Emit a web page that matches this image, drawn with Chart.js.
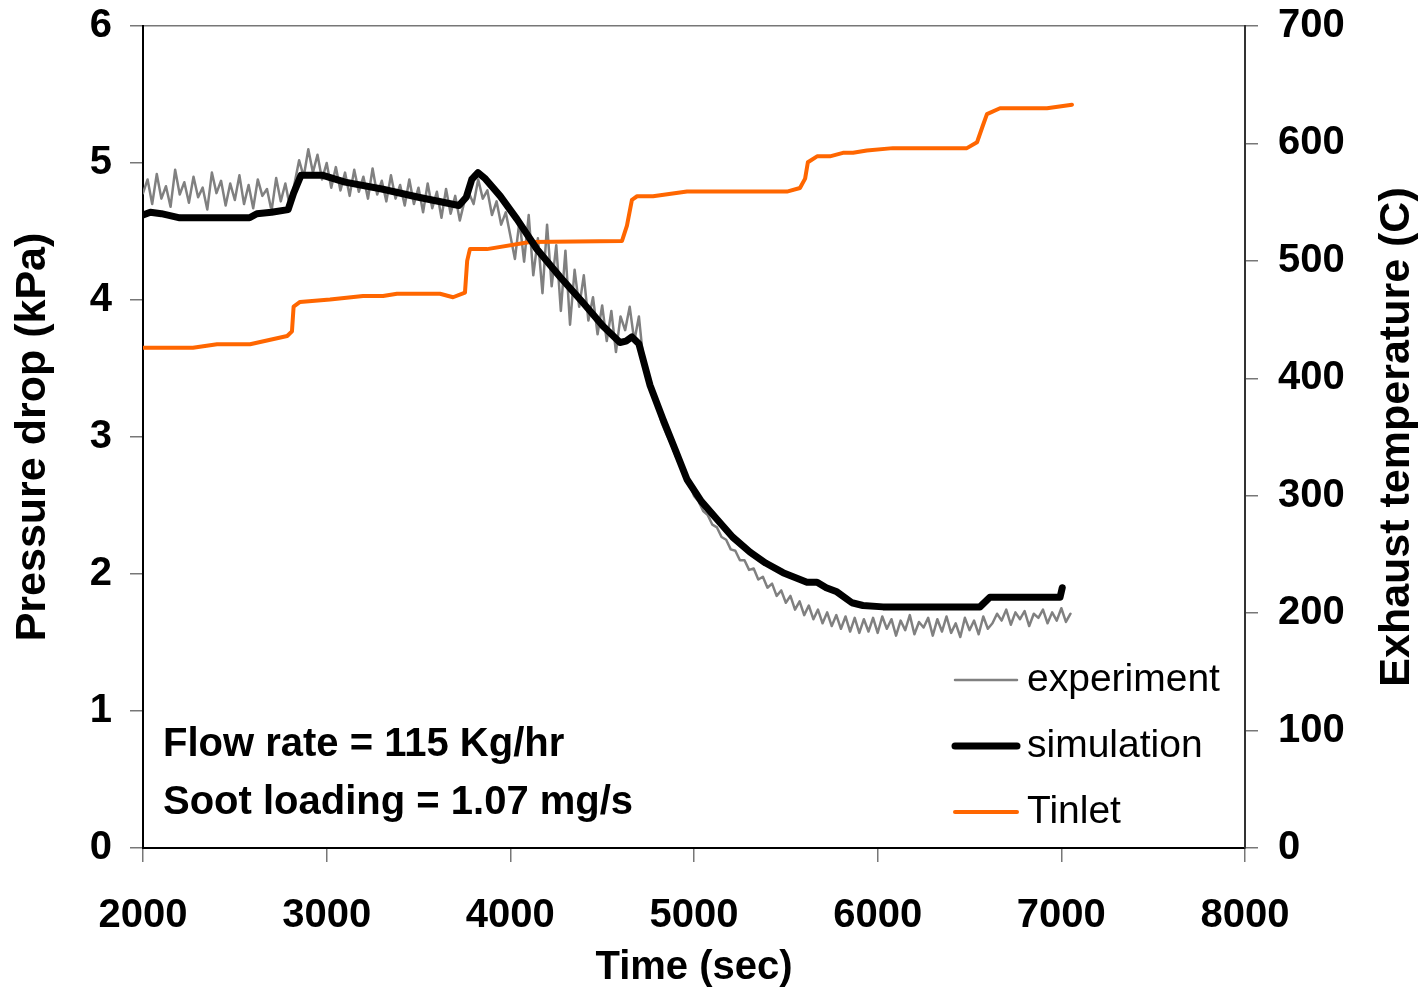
<!DOCTYPE html>
<html>
<head>
<meta charset="utf-8">
<script src="https://cdn.jsdelivr.net/npm/chart.js@4"></script>
<style>
  html, body { margin: 0; padding: 0; background: #fff; }
</style>
</head>
<body>
<canvas id="chart" width="1422" height="993"></canvas>
<script>
// measured pressure drop, sampled every 25 s (kPa)
const expTime = [
  2000,2025,2050,2075,2100,2125,2150,2175,2200,2225,
  2250,2275,2300,2325,2350,2375,2400,2425,2450,2475,
  2500,2525,2550,2575,2600,2625,2650,2675,2700,2725,
  2750,2775,2800,2825,2850,2875,2900,2925,2950,2975,
  3000,3025,3050,3075,3100,3125,3150,3175,3200,3225,
  3250,3275,3300,3325,3350,3375,3400,3425,3450,3475,
  3500,3525,3550,3575,3600,3625,3650,3675,3700,3725,
  3750,3775,3800,3825,3850,3875,3900,3925,3950,3975,
  4000,4025,4050,4075,4100,4125,4150,4175,4200,4225,
  4250,4275,4300,4325,4350,4375,4400,4425,4450,4475,
  4500,4525,4550,4575,4600,4625,4650,4675,4700,4725,
  4750,4775,4800,4825,4850,4875,4900,4925,4950,4975,
  5000,5025,5050,5075,5100,5125,5150,5175,5200,5225,
  5250,5275,5300,5325,5350,5375,5400,5425,5450,5475,
  5500,5525,5550,5575,5600,5625,5650,5675,5700,5725,
  5750,5775,5800,5825,5850,5875,5900,5925,5950,5975,
  6000,6025,6050,6075,6100,6125,6150,6175,6200,6225,
  6250,6275,6300,6325,6350,6375,6400,6425,6450,6475,
  6500,6525,6550,6575,6600,6625,6650,6675,6700,6725,
  6750,6775,6800,6825,6850,6875,6900,6925,6950,6975,
  7000,7025,7050
];
const expDrop = [
  // 2000 - 2800
  4.78,4.88,4.70,4.92,4.74,4.83,4.68,4.95,4.77,4.86,4.71,4.90,4.75,4.82,4.66,4.93,4.78,
  4.87,4.69,4.85,4.73,4.91,4.70,4.84,4.67,4.88,4.76,4.81,4.65,4.89,4.72,4.85,4.68,
  // 2825 - 3000
  4.85,5.02,4.90,5.10,4.93,5.06,4.88,5.00,
  // 3025 - 3750
  4.82,4.97,4.80,4.93,4.76,4.95,4.79,4.90,4.74,4.96,4.77,4.87,4.72,4.91,4.74,
  4.84,4.69,4.88,4.70,4.82,4.64,4.85,4.67,4.79,4.60,4.81,4.63,4.76,4.58,4.72,
  // 3775 - 4000
  4.78,4.70,4.88,4.74,4.80,4.62,4.72,4.55,4.64,4.47,
  // 4025 - 4600
  4.30,4.58,4.28,4.62,4.18,4.45,4.05,4.55,4.10,4.40,3.92,4.36,
  3.82,4.22,3.95,4.18,3.85,4.02,3.75,3.96,3.70,3.92,3.62,3.88,
  // 4625 - 4800
  3.78,3.95,3.70,3.88,3.55,3.45,3.32,3.22,
  // 4825 - 5975
  3.10,3.02,2.95,2.86,2.80,2.70,2.66,2.57,2.53,2.46,2.43,2.36,2.34,2.27,2.25,2.18,
  2.17,2.10,2.10,2.03,2.04,1.96,1.98,1.90,1.93,1.84,1.88,1.79,1.84,1.74,1.80,1.70,
  1.77,1.67,1.74,1.64,1.72,1.62,1.70,1.60,1.69,1.58,1.68,1.57,1.67,1.58,1.68,
  // 6000 - 6600
  1.57,1.69,1.60,1.67,1.55,1.66,1.59,1.70,1.56,1.65,1.61,1.68,1.55,
  1.67,1.58,1.69,1.57,1.64,1.54,1.68,1.59,1.66,1.56,1.69,1.60,
  // 6625 - 7050
  1.64,1.71,1.66,1.74,1.63,1.72,1.67,1.73,1.62,1.71,1.68,1.74,1.64,1.72,1.66,1.75,1.65,1.71
];

// simulated pressure drop (kPa)
const simTime = [2000,2040,2100,2200,2400,2580,2620,2700,2790,2820,2860,2980,3100,3300,3500,3720,3760,3790,3824,3860,
  3944,4036,4145,4270,4396,4504,4597,4630,4662,4700,4760,4831,4900,4962,5040,5125,5210,5305,5390,5485,
  5615,5640,5670,5720,5778,5860,5920,6029,6557,6611,6993,7000,7005];
const simDrop = [4.62,4.64,4.63,4.60,4.60,4.60,4.63,4.64,4.66,4.78,4.91,4.91,4.86,4.81,4.75,4.69,4.75,4.88,4.93,4.89,
  4.76,4.59,4.37,4.17,3.98,3.81,3.69,3.70,3.73,3.68,3.38,3.13,2.90,2.69,2.53,2.40,2.27,2.16,2.08,2.01,
  1.94,1.94,1.94,1.90,1.87,1.79,1.77,1.76,1.76,1.83,1.83,1.87,1.90];

// inlet exhaust temperature (C)
const tinTime = [2000,2272,2403,2583,2785,2811,2820,2855,3018,3198,3307,3383,3617,3688,3753,3765,3780,3873,4107,4608,
  4635,4662,4690,4777,4962,5506,5577,5605,5620,5670,5740,5811,5866,5941,6083,6486,6541,6570,6595,6666,
  6922,7058];
const tinTemp = [426,426,429,429,436,440,461,465,467,470,470,472,472,469,473,500,510,510,516,517,
  530,552,555,555,559,559,562,570,584,589,589,592,592,594,596,596,601,614,625,630,
  630,633];

const xTicks = [2000, 3000, 4000, 5000, 6000, 7000, 8000];
const notes = ['Flow rate = 115 Kg/hr', 'Soot loading = 1.07 mg/s'];
const rightTitle = 'Exhaust temperature (C)';

const FONT = '"Liberation Sans", Arial, sans-serif';

function pairs(xs, ys) {
  const n = Math.min(xs.length, ys.length);
  const out = [];
  for (let i = 0; i < n; i++) out.push({ x: xs[i], y: ys[i] });
  return out;
}

// legend, notes and the right axis title (reads bottom to top like the left one)
const insidePlot = {
  id: 'insidePlot',
  afterDraw(chart) {
    const { ctx, chartArea } = chart;
    ctx.save();
    ctx.textBaseline = 'middle';
    ctx.fillStyle = '#000';
    ctx.font = '39px ' + FONT;
    chart.data.datasets.forEach((ds, i) => {
      const y = chartArea.bottom - 168 + i * 66;
      const x = chartArea.right - 290;
      ctx.strokeStyle = ds.borderColor;
      ctx.lineWidth = ds.borderWidth;
      ctx.lineCap = 'round';
      ctx.beginPath();
      ctx.moveTo(x, y);
      ctx.lineTo(x + 62, y);
      ctx.stroke();
      ctx.fillText(ds.label, x + 72, y);
    });
    ctx.font = 'bold 40px ' + FONT;
    notes.forEach((t, i) => {
      ctx.fillText(t, chartArea.left + 20, chartArea.bottom - 103 + i * 58);
    });
    ctx.translate(chart.width - 25, (chartArea.top + chartArea.bottom) / 2);
    ctx.rotate(-Math.PI / 2);
    ctx.textAlign = 'center';
    ctx.font = 'bold 43px ' + FONT;
    ctx.fillText(rightTitle, 0, 0);
    ctx.restore();
  }
};

const tickFont = { family: FONT, size: 40, weight: 'bold' };

function noPad(s) {
  s.paddingTop = 0;
  s.paddingBottom = 0;
  s.paddingLeft = 0;
  s.paddingRight = 0;
}

new Chart(document.getElementById('chart'), {
  type: 'line',
  data: {
    datasets: [{
      label: 'experiment',
      data: pairs(expTime, expDrop),
      borderColor: '#808080',
      borderWidth: 2.5,
      yAxisID: 'y',
      order: 2
    }, {
      label: 'simulation',
      data: pairs(simTime, simDrop),
      borderColor: '#000000',
      borderWidth: 7,
      yAxisID: 'y',
      order: 0
    }, {
      label: 'Tinlet',
      data: pairs(tinTime, tinTemp),
      borderColor: '#ff6600',
      borderWidth: 4,
      yAxisID: 'y2',
      order: 1
    }]
  },
  options: {
    responsive: false,
    animation: false,
    devicePixelRatio: 1,
    layout: { padding: { top: 26, left: 0, right: 0, bottom: 0 } },
    elements: {
      point: { radius: 0 },
      line: { tension: 0, borderJoinStyle: 'round', borderCapStyle: 'round' }
    },
    plugins: { legend: { display: false }, tooltip: { enabled: false } },
    scales: {
      x: {
        type: 'linear',
        min: 2000, max: 8000,
        afterBuildTicks: (s) => { s.ticks = xTicks.map(v => ({ value: v })); },
        afterFit: (s) => { s.height = 145; noPad(s); },
        grid: { drawOnChartArea: false, tickLength: 14, color: '#777', lineWidth: 1.5 },
        border: { color: '#000', width: 2 },
        ticks: { color: '#000', font: tickFont, padding: 30, maxRotation: 0, callback: (v) => String(v) },
        title: { display: true, text: 'Time (sec)', color: '#000', font: tickFont, padding: { top: 0, bottom: 1 } }
      },
      y: {
        position: 'left',
        min: 0, max: 6,
        ticks: { stepSize: 1, color: '#000', font: tickFont, padding: 18, callback: (v) => String(v) },
        afterFit: (s) => { s.width = 143; noPad(s); },
        grid: {
          tickLength: 13,
          tickColor: '#777',
          color: (c) => (c.tick && c.tick.value === 6 ? '#777' : 'rgba(0,0,0,0)'),
          lineWidth: 1.5
        },
        border: { color: '#000', width: 2 },
        title: { display: true, text: 'Pressure drop (kPa)', color: '#000', font: { family: FONT, size: 43, weight: 'bold' }, padding: { top: 7, bottom: 0 } }
      },
      y2: {
        position: 'right',
        min: 0, max: 700,
        ticks: { stepSize: 100, color: '#000', font: tickFont, padding: 20, callback: (v) => String(v) },
        afterFit: (s) => { s.width = 177; noPad(s); },
        grid: { drawOnChartArea: false, tickLength: 13, color: '#777', lineWidth: 1.5 },
        border: { color: '#333', width: 2 },
        title: { display: false }
      }
    }
  },
  plugins: [insidePlot]
});
</script>
</body>
</html>
